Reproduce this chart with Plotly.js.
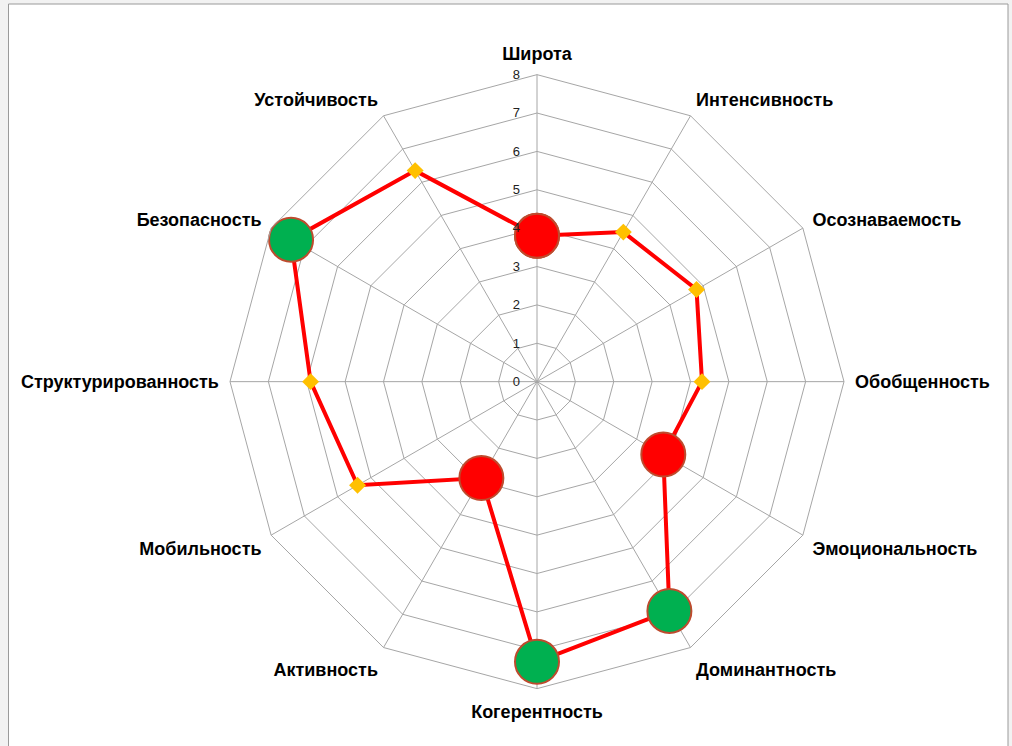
<!DOCTYPE html>
<html>
<head>
<meta charset="utf-8">
<script src="https://cdn.plot.ly/plotly-3.0.1.min.js"></script>
<style>html,body{margin:0;padding:0;background:#fff;}#chart{width:1012px;height:746px;}</style>
</head>
<body>
<div id="chart"></div>
<script>
var categories = ["Широта","Интенсивность","Осознаваемость","Обобщенность","Эмоциональность","Доминантность","Когерентность","Активность","Мобильность","Структурированность","Безопасность","Устойчивость"];
var values = [3.8, 4.5, 4.8, 4.3, 3.8, 6.9, 7.3, 2.9, 5.4, 5.9, 7.4, 6.35];
var markerKind = ["red","dot","dot","dot","red","green","green","red","dot","dot","green","dot"];
var radialTicks = [0,1,2,3,4,5,6,7,8];

var sizeMap = {red: 44, green: 44, dot: 13};
var colorMap = {red: "#FF0000", green: "#00B050", dot: "#FFC000"};
var symbolMap = {red: "circle", green: "circle", dot: "diamond"};
var lineColorMap = {red: "#BE4B2E", green: "#BE4B2E", dot: "#FFC000"};
var lineWidthMap = {red: 2, green: 2, dot: 0};

var th = categories.concat([categories[0]]);
var rv = values.concat([values[0]]);
var mk = markerKind.concat([markerKind[0]]);

var trace = {
  type: "scatterpolar",
  r: rv,
  theta: th,
  mode: "lines+markers",
  line: {color: "#FF0000", width: 4},
  marker: {
    opacity: 1,
    size: mk.map(function(k){return sizeMap[k];}),
    color: mk.map(function(k){return colorMap[k];}),
    symbol: mk.map(function(k){return symbolMap[k];}),
    line: {
      color: mk.map(function(k){return lineColorMap[k];}),
      width: mk.map(function(k){return lineWidthMap[k];})
    }
  },
  opacity: 1,
  hoverinfo: "skip",
  cliponaxis: false
};

function px(x){return x/1012;}
function py(y){return 1 - y/746;}

var layout = {
  width: 1012, height: 746,
  margin: {l:0, r:0, t:0, b:0},
  paper_bgcolor: "#f2f2f2",
  showlegend: false,
  font: {family: "Liberation Sans, Arial, sans-serif", color: "#000"},
  shapes: [{
    type: "rect", xref: "paper", yref: "paper", layer: "below",
    x0: px(8.5), x1: px(1008), y0: py(760), y1: py(4),
    fillcolor: "#ffffff", line: {color: "#9a9a9a", width: 1}
  }],
  polar: {
    domain: {x: [px(230), px(844)], y: [py(688.8), py(74.5)]},
    bgcolor: "rgba(0,0,0,0)",
    gridshape: "linear",
    angularaxis: {
      direction: "clockwise",
      rotation: 90,
      type: "category",
      categoryorder: "array",
      categoryarray: categories,
      showline: true,
      linecolor: "#a6a6a6",
      linewidth: 1,
      gridcolor: "#a6a6a6",
      gridwidth: 1,
      ticks: "outside",
      ticklen: 7,
      tickcolor: "rgba(0,0,0,0)",
      tickfont: {family: "Liberation Sans, Arial, sans-serif", size: 18, color: "#000", weight: "bold"}
    },
    radialaxis: {
      range: [0, 8],
      tickvals: radialTicks,
      ticktext: radialTicks.map(String),
      angle: 90,
      side: "counterclockwise",
      showline: false,
      ticks: "outside",
      ticklen: 12,
      tickcolor: "rgba(0,0,0,0)",
      gridcolor: "#a6a6a6",
      gridwidth: 1,
      tickangle: 90,
      tickfont: {family: "Liberation Sans, Arial, sans-serif", size: 13, color: "#222"}
    }
  }
};

Plotly.newPlot("chart", [trace], layout, {displayModeBar: false, staticPlot: true});
</script>
</body>
</html>
